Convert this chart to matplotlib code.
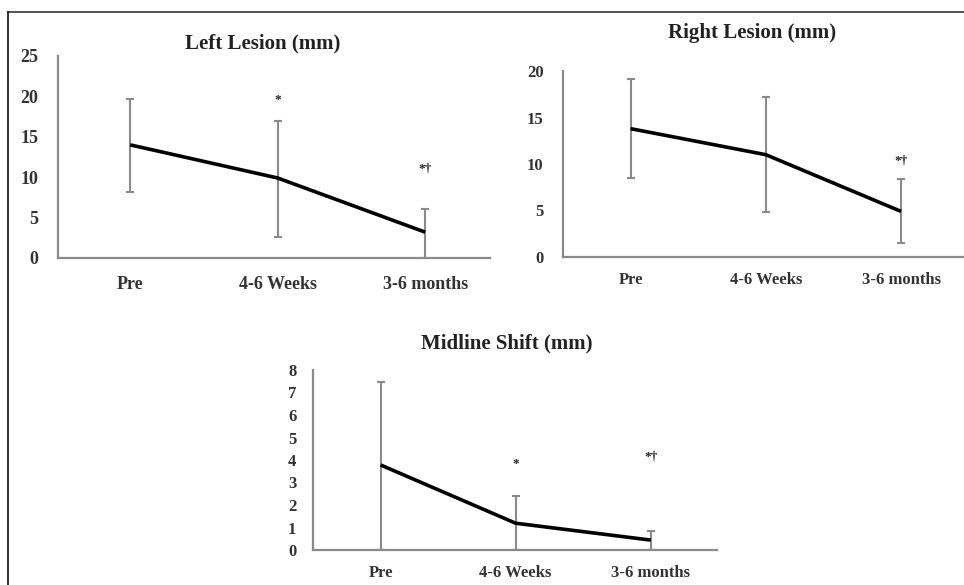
import matplotlib
matplotlib.use("Agg")
import matplotlib.pyplot as plt
from matplotlib.lines import Line2D
import numpy as np

categories = ["Pre", "4-6 Weeks", "3-6 months"]

left_mean = [14.0, 9.9, 3.2]
left_low = [8.2, 2.6, 0.0]
left_high = [19.7, 16.9, 6.1]
left_marks = ["", "*", "*\u2020"]
left_mark_y = [None, 19.6, 11.1]

right_mean = [13.8, 11.0, 4.9]
right_low = [8.5, 4.8, 1.5]
right_high = [19.1, 17.2, 8.4]
right_marks = ["", "", "*\u2020"]
right_mark_y = [None, None, 10.4]

mid_mean = [3.78, 1.19, 0.44]
mid_low = [0.0, 0.0, 0.0]
mid_high = [7.48, 2.4, 0.84]
mid_marks = ["", "*", "*\u2020"]
mid_mark_y = [None, 3.8, 4.15]

W, H = 964, 585
fig = plt.figure(figsize=(W / 100, H / 100), dpi=100)
fig.patch.set_facecolor("white")

SERIF = ["Liberation Serif", "DejaVu Serif"]


def px_axes(l, r, top, bot):
    return fig.add_axes([l / W, (H - bot) / H, (r - l) / W, (bot - top) / H])


def panel(ax, mean, low, high, marks, mark_y, ymax, ystep, xlim, title, title_xy,
          tick_fs, pad_y, pad_x):
    x = np.arange(len(categories))
    mean = np.array(mean)
    yerr = [mean - np.array(low), np.array(high) - mean]
    ax.errorbar(x, mean, yerr=yerr, fmt="none", ecolor="#8a8a8a", elinewidth=1.5,
                capsize=3, capthick=1.5, zorder=2)
    ax.plot(x, mean, color="black", lw=2.6, zorder=3, solid_capstyle="butt")
    for xi, m, my in zip(x, marks, mark_y):
        if m:
            ax.text(xi, my, m, ha="center", va="center", fontsize=9.5,
                    family=SERIF, fontweight="bold", color="#222")
    ax.set_xlim(*xlim)
    ax.set_ylim(0, ymax)
    ax.set_yticks(np.arange(0, ymax + 0.01, ystep))
    ax.set_xticks(x)
    ax.set_xticklabels(categories)
    for s in ["top", "right"]:
        ax.spines[s].set_visible(False)
    for s in ["left", "bottom"]:
        ax.spines[s].set_color("#8a8a8a")
        ax.spines[s].set_linewidth(1.6)
    ax.tick_params(axis="both", length=0, labelcolor="#333")
    ax.tick_params(axis="y", pad=pad_y)
    ax.tick_params(axis="x", pad=pad_x)
    for lab in ax.get_xticklabels() + ax.get_yticklabels():
        lab.set_family(SERIF)
        lab.set_fontweight("bold")
        lab.set_fontsize(tick_fs)
    fig.text(title_xy[0] / W, 1 - title_xy[1] / H, title, ha="center", va="center",
             family=SERIF, fontweight="bold", fontsize=15, color="#222")


ax1 = px_axes(58, 490, 56, 258)
panel(ax1, left_mean, left_low, left_high, left_marks, left_mark_y, 25, 5,
      (-0.49, 2.44), "Left Lesion (mm)", (263, 43), 13, 14, 13)

ax2 = px_axes(563, 966, 71, 257)
panel(ax2, right_mean, right_low, right_high, right_marks, right_mark_y, 20, 5,
      (-0.5, 2.48), "Right Lesion (mm)", (752, 33), 12, 14, 11)

ax3 = px_axes(313, 717, 370, 550)
panel(ax3, mid_mean, mid_low, mid_high, mid_marks, mid_mark_y, 8, 1,
      (-0.5, 2.49), "Midline Shift (mm)", (507, 343), 12, 12, 11)

# outer border (top and left)
fig.add_artist(Line2D([8 / W, 1], [1 - 12 / H, 1 - 12 / H], transform=fig.transFigure,
                      color="#444", lw=1.3))
fig.add_artist(Line2D([8 / W, 8 / W], [0, 1 - 12 / H], transform=fig.transFigure,
                      color="#222", lw=1.3))

fig.savefig("out.png", dpi=100, facecolor="white")
